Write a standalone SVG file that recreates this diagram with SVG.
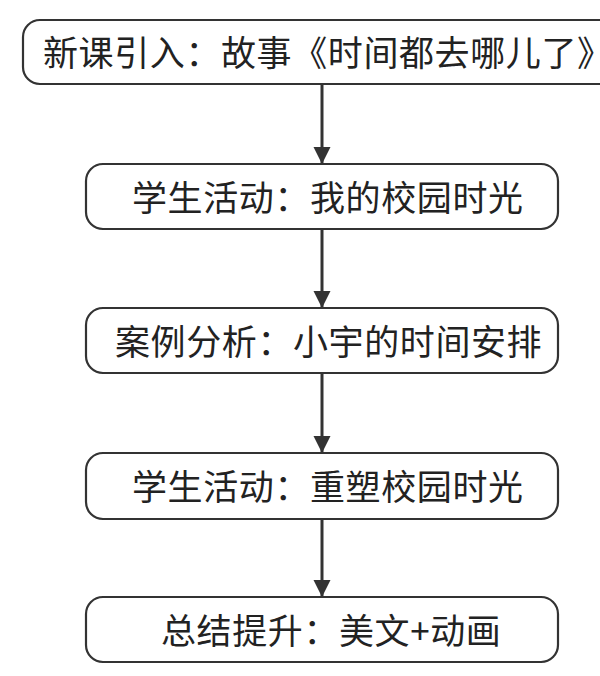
<svg xmlns="http://www.w3.org/2000/svg" width="600" height="676" viewBox="0 0 600 676">
<style>
.box{fill:#fff;stroke:#333;stroke-width:2.2}
.t{font-family:"Noto Sans CJK SC","Noto Sans",sans-serif;font-size:35px;fill:#222;letter-spacing:0.6px}
.c{stroke:#333;stroke-width:3;fill:none}
</style>
<defs>
<marker id="ah" markerUnits="userSpaceOnUse" markerWidth="18" markerHeight="19" refX="17" refY="9" orient="auto" viewBox="0 0 18 18">
<path d="M0,0.5 L17,9 L0,17.5 Z" fill="#333"/>
</marker>
</defs>
<rect width="600" height="676" fill="#fff"/>
<g id="connectors">
<line class="c" x1="322" y1="84" x2="322" y2="164" marker-end="url(#ah)"/>
<line class="c" x1="322" y1="229" x2="322" y2="308" marker-end="url(#ah)"/>
<line class="c" x1="322" y1="373" x2="322" y2="453" marker-end="url(#ah)"/>
<line class="c" x1="322" y1="519" x2="322" y2="597" marker-end="url(#ah)"/>
</g>
<g id="n1">
<rect class="box" x="23" y="20" width="600" height="64" rx="17"/>
<text class="t" x="43" y="66">新课引入：故事《时间都去哪儿了》</text>
</g>
<g id="n2">
<rect class="box" x="86" y="164" width="472" height="65" rx="17"/>
<text class="t" x="132" y="211">学生活动：我的校园时光</text>
</g>
<g id="n3">
<rect class="box" x="86" y="308" width="472" height="65" rx="17"/>
<text class="t" x="115" y="355">案例分析：小宇的时间安排</text>
</g>
<g id="n4">
<rect class="box" x="86" y="453" width="472" height="66" rx="17"/>
<text class="t" x="132" y="500">学生活动：重塑校园时光</text>
</g>
<g id="n5">
<rect class="box" x="86" y="597" width="472" height="65" rx="17"/>
<text class="t" x="161" y="644">总结提升：美文+动画</text>
</g>
</svg>
